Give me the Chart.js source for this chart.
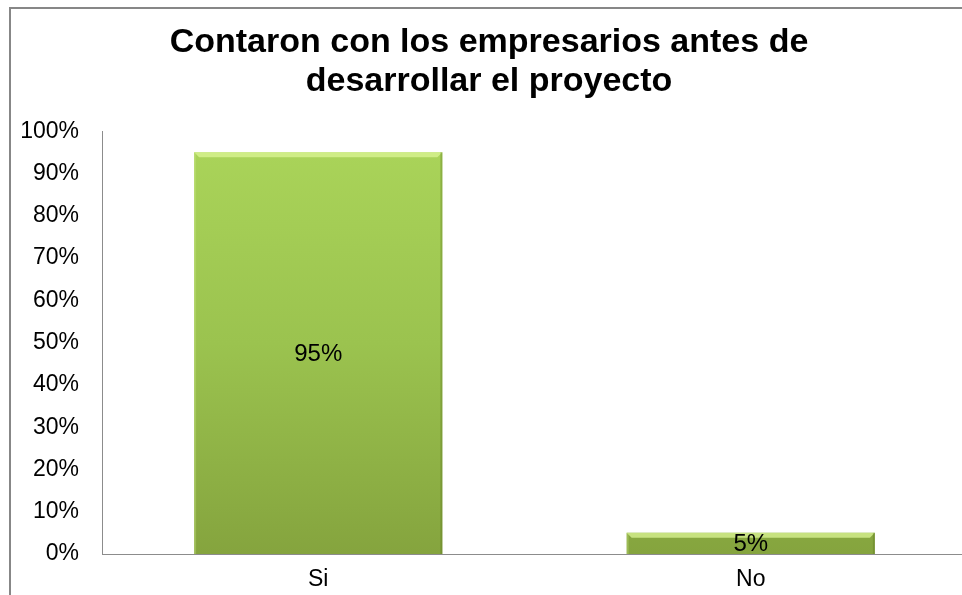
<!DOCTYPE html>
<html>
<head>
    <title>Contaron con los empresarios</title>
    <script src="https://cdn.jsdelivr.net/npm/chart.js"></script>
    <style>
        html, body { margin: 0; padding: 0; background: #fff; overflow: hidden; }
        #frame {
            position: absolute; left: 9px; top: 7px;
            width: 1000px; height: 640px;
            border: 2px solid #878787;
        }
    </style>
</head>
<body>

<!-- CHART FRAME -->
<div id="frame">
    <canvas id="chart" width="960" height="600"></canvas>
</div>

<script>

const categories = ["Si", "No"];
const values = [95, 5];
const titleLines = ["Contaron con los empresarios antes de", "desarrollar el proyecto"];

/* BAR GRADIENT */
function barFill(ctx) {
    const area = ctx.chart.chartArea;
    if (!area) return "#9bc34f";
    const g = ctx.chart.ctx.createLinearGradient(0, area.top, 0, area.bottom);
    g.addColorStop(0, "#abd55a");
    g.addColorStop(0.5, "#9bc34f");
    g.addColorStop(1, "#85a43e");
    return g;
}

/* BEVEL + VALUE LABELS */
const barExtras = {
    id: "barExtras",
    afterDatasetsDraw(chart) {
        const c = chart.ctx;
        const meta = chart.getDatasetMeta(0);
        meta.data.forEach((bar, i) => {
            const left = bar.x - bar.width / 2;
            const right = bar.x + bar.width / 2;
            const top = bar.y;
            const bottom = bar.base;
            const b = Math.min(5, (bottom - top) / 3);

            c.save();
            c.fillStyle = "rgba(220,245,150,0.75)";
            c.beginPath();
            c.moveTo(left, top);
            c.lineTo(right, top);
            c.lineTo(right - b, top + b);
            c.lineTo(left + b, top + b);
            c.closePath();
            c.fill();

            c.fillStyle = "rgba(90,115,30,0.35)";
            c.fillRect(right - 2, top, 2, bottom - top);
            c.fillStyle = "rgba(200,230,130,0.35)";
            c.fillRect(left, top, 2, bottom - top);

            c.fillStyle = "#000";
            c.font = "24px 'Liberation Sans', Arial, sans-serif";
            c.textAlign = "center";
            c.textBaseline = "middle";
            c.fillText(values[i] + "%", bar.x, (top + bottom) / 2 + 1);
            c.restore();
        });
    }
};

new Chart(document.getElementById("chart"), {
    type: "bar",
    data: {
        labels: categories,
        datasets: [{
            data: values,
            backgroundColor: barFill,
            borderWidth: 0,
            barPercentage: 0.574,
            categoryPercentage: 1
        }]
    },
    options: {
        responsive: false,
        animation: false,
        layout: { padding: { left: 0, right: 4, top: 0, bottom: 0 } },
        plugins: {
            legend: { display: false },
            tooltip: { enabled: false },
            title: {
                display: true,
                text: titleLines,
                color: "#000",
                font: { family: "'Liberation Sans', Arial, sans-serif", size: 34, weight: "bold", lineHeight: 1.15 },
                padding: { top: 14, bottom: 30 }
            }
        },
        scales: {
            x: {
                grid: { display: false, drawTicks: false },
                border: { display: true, color: "#8c8c8c", width: 1 },
                ticks: {
                    color: "#000",
                    padding: 12,
                    font: { family: "'Liberation Sans', Arial, sans-serif", size: 23 }
                },
                afterFit(scale) { scale.height = 55; }
            },
            y: {
                min: 0,
                max: 100,
                grid: { display: false, drawTicks: false },
                border: { display: true, color: "#8c8c8c", width: 1 },
                ticks: {
                    stepSize: 10,
                    color: "#000",
                    padding: 23,
                    font: { family: "'Liberation Sans', Arial, sans-serif", size: 23 },
                    callback: v => v + "%"
                },
                afterFit(scale) { scale.width = 91; }
            }
        }
    },
    plugins: [barExtras]
});

</script>

</body>
</html>
